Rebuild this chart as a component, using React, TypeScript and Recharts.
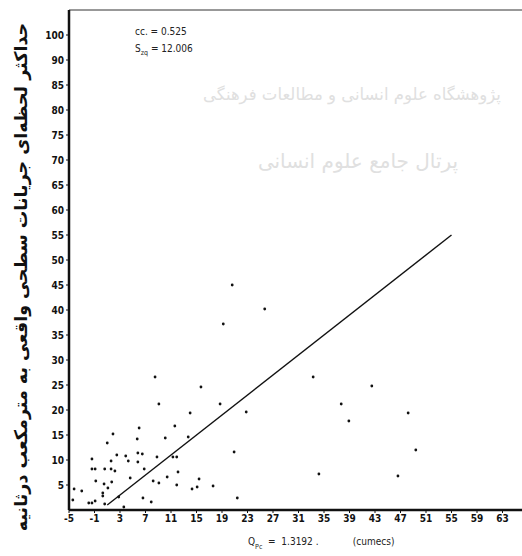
import { ScatterChart, Scatter, XAxis, YAxis, ReferenceLine, Customized } from 'recharts';

// estimated peak discharge (x) vs observed peak discharge (y), m3/s
const qpcEstimated = [
  20.6, 25.7, 19.2, 15.7, 8.5, 18.7, 9.1, 33.3, 42.5, 37.7, 22.8, 38.9, 48.2, 49.4, 34.2, 46.6,
  14.0, 6.0, 11.6, 1.9, 5.7, 10.1, 13.7, 1.0, 5.8, 6.5, 2.5, 3.9, 20.9, 8.8, -1.4, 11.3, 11.9,
  1.6, 4.3, 5.8, -1.4, -0.9, 0.6, 1.6, 2.2, 6.8, 12.1, -0.8, 1.7, 4.6, 8.2, 9.1, 10.4, 15.4,
  0.5, 1.1, 11.9, 15.1, 14.3, 17.6, -4.2, -3.0, 0.3, 21.4, 6.6, -4.4, 0.3, -1.9, -1.4, -0.9,
  2.8, 7.9, 3.6, 0.6,
];
const qpcObserved = [
  45.0, 40.2, 37.2, 24.6, 26.6, 21.2, 21.2, 26.6, 24.8, 21.2, 19.6, 17.8, 19.4, 12.0, 7.2, 6.8,
  19.4, 16.4, 16.8, 15.2, 14.2, 14.4, 14.6, 13.4, 11.4, 11.2, 11.0, 10.8, 11.6, 10.6, 10.2, 10.6, 10.6,
  9.8, 9.8, 9.6, 8.2, 8.2, 8.2, 8.2, 7.8, 8.2, 7.6, 5.8, 5.6, 6.4, 5.8, 5.4, 6.6, 6.2,
  5.2, 4.4, 5.0, 4.6, 4.2, 4.8, 4.2, 3.8, 3.4, 2.4, 2.4, 2.0, 2.8, 1.4, 1.4, 1.8,
  2.6, 1.6, 0.6, 1.2,
];

const fitLine = [
  { x: 1, y: 1 },
  { x: 55, y: 55 },
];

const xTicks = [-5, -1, 3, 7, 11, 15, 19, 23, 27, 31, 35, 39, 43, 47, 51, 55, 59, 63];
const yTicks = [5, 10, 15, 20, 25, 30, 35, 40, 45, 50, 55, 60, 65, 70, 75, 80, 85, 90, 95];
const yTickLabels = ['5', '10', '15', '20', '25', '30', '35', '40', '45', '50', '55', '60', '65', '70', '75', '80', '85', '90', '100'];

const points = qpcEstimated.map((x, i) => ({ x, y: qpcObserved[i] }));

const tickFont = { fill: '#111', fontSize: 10, fontWeight: 'bold' as const, fontFamily: '"DejaVu Sans Condensed", "DejaVu Sans", sans-serif' };

const Dot = (props: any) => <circle cx={props.cx} cy={props.cy} r={1.4} fill="#111" />;

const Overlay = () => (
  <g>
    {/* watermark */}
    <g fontFamily='"DejaVu Sans", sans-serif' fill="#e0e0e0" textAnchor="middle">
      <text x={352} y={100} fontSize={16.5}>پژوهشگاه علوم انسانی و مطالعات فرهنگی</text>
      <text x={358} y={168} fontSize={20}>پرتال جامع علوم انسانی</text>
    </g>
    {/* stats */}
    <g fontFamily='"DejaVu Sans Condensed", "DejaVu Sans", sans-serif' fontSize={10} fill="#222">
      <text x={135} y={35}>cc. = 0.525</text>
      <text x={135} y={52}>
        S<tspan fontSize={7} dy={3}>zq</tspan>
        <tspan dy={-3}> = 12.006</tspan>
      </text>
    </g>
    {/* y title */}
    <text
      transform="rotate(-90)"
      x={-277}
      y={27}
      textAnchor="middle"
      fontFamily='"DejaVu Sans", sans-serif'
      fontSize={17.5}
      fontWeight="bold"
      fill="#111"
    >
      حداکثر لحظه‌ای جریانات سطحی واقعی به مترمکعب درثانیه
    </text>
    {/* x title */}
    <text x={248} y={545} fontFamily='"DejaVu Sans Condensed", "DejaVu Sans", sans-serif' fontSize={10} fill="#222" style={{ whiteSpace: 'pre' }}>
      Q<tspan fontSize={7} dy={4}>Pc</tspan>
      <tspan dy={-4}>{'  =  1.3192 .            (cumecs)'}</tspan>
    </text>
  </g>
);

export default function App() {
  return (
    <div style={{ position: 'fixed', left: 0, top: 0, width: 522, height: 556, overflow: 'hidden', background: '#fff' }}>
      <ScatterChart width={540} height={556} margin={{ top: 10, right: 12, bottom: 0, left: 0 }}>
        <XAxis
          type="number"
          dataKey="x"
          domain={[-5, 67]}
          ticks={xTicks}
          interval={0}
          height={46}
          axisLine={{ stroke: '#111', strokeWidth: 2.5 }}
          tickLine={{ stroke: '#111' }}
          tickSize={3}
          tickMargin={2}
          tick={tickFont}
          allowDataOverflow
        />
        <YAxis
          type="number"
          dataKey="y"
          domain={[0, 100]}
          ticks={yTicks}
          interval={0}
          width={69}
          axisLine={{ stroke: '#111', strokeWidth: 2.5 }}
          tickLine={{ stroke: '#111' }}
          tickSize={3}
          tickMargin={2}
          tick={tickFont}
          tickFormatter={(v: number) => yTickLabels[yTicks.indexOf(v)] ?? String(v)}
          allowDataOverflow
        />
        <ReferenceLine y={100} stroke="#333" strokeWidth={1} />
        <ReferenceLine segment={fitLine} stroke="#111" strokeWidth={1.4} />
        <Scatter data={points} shape={Dot} isAnimationActive={false} />
        <Customized component={Overlay} />
      </ScatterChart>
    </div>
  );
}
